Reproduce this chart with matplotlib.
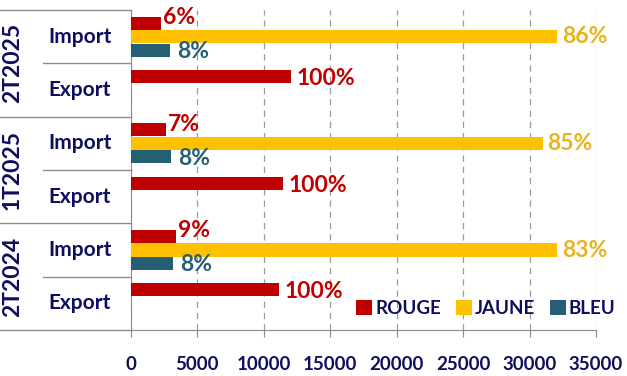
import matplotlib.pyplot as plt

plt.rcParams["font.family"] = ["Lato", "DejaVu Sans"]
plt.rcParams["font.weight"] = "bold"

# data
periodes = ["2T2025", "1T2025", "2T2024"]
flux = ["Import", "Export"]
series = ["ROUGE", "JAUNE", "BLEU"]
import_rouge = [2260, 2630, 3380]
import_jaune = [32100, 31000, 32100]
import_bleu = [2930, 3000, 3160]
export_rouge = [12030, 11430, 11130]
pct_rouge = ["6%", "7%", "9%"]
pct_jaune = ["86%", "85%", "83%"]
pct_bleu = ["8%", "8%", "8%"]
pct_export = ["100%", "100%", "100%"]
xticks = [0, 5000, 10000, 15000, 20000, 25000, 30000, 35000]

ROUGE = "#C00000"
JAUNE = "#FFC000"
BLEU = "#245F73"
NAVY = "#0E0E5E"
GRIS = "#8C8C8C"

fig = plt.figure(figsize=(6.27, 3.76), dpi=100)
ax = fig.add_axes([0.2089, 0.1223, 0.7417, 0.8511])

h = 0.245
off = 0.253
for i in range(len(periodes)):
    yi = 2 * i + 0.5
    ye = 2 * i + 1.5
    ax.barh(yi - off, import_rouge[i], height=h, color=ROUGE, zorder=3,
            label="ROUGE" if i == 0 else None)
    ax.barh(yi, import_jaune[i], height=h, color=JAUNE, zorder=3,
            label="JAUNE" if i == 0 else None)
    ax.barh(yi + off, import_bleu[i], height=h, color=BLEU, zorder=3,
            label="BLEU" if i == 0 else None)
    ax.barh(ye - off, export_rouge[i], height=h, color=ROUGE, zorder=3)

    ax.annotate(pct_rouge[i], (import_rouge[i], yi - off), xytext=(1.5, 4),
                textcoords="offset points", va="center", ha="left",
                color=ROUGE, fontsize=16.5, annotation_clip=False)
    ax.annotate(pct_jaune[i], (import_jaune[i], yi), xytext=(3, 0),
                textcoords="offset points", va="center", ha="left",
                color="#E8B41E", fontsize=16.5, annotation_clip=False)
    ax.annotate(pct_bleu[i], (import_bleu[i], yi + off), xytext=(5, -1),
                textcoords="offset points", va="center", ha="left",
                color=BLEU, fontsize=16.5, annotation_clip=False)
    ax.annotate(pct_export[i], (export_rouge[i], ye - off), xytext=(4, -1.5),
                textcoords="offset points", va="center", ha="left",
                color=ROUGE, fontsize=16.5, annotation_clip=False)

    # hierarchical labels on the left
    trans = ax.get_yaxis_transform()
    ax.text(-0.255, 2 * i + 1, periodes[i], transform=trans, rotation=90,
            ha="center", va="center", color=NAVY, fontsize=16.5)
    ax.text(-0.11, yi, flux[0], transform=trans, ha="center", va="center",
            color=NAVY, fontsize=15)
    ax.text(-0.11, ye, flux[1], transform=trans, ha="center", va="center",
            color=NAVY, fontsize=15)
    ax.plot([-0.189, 0], [2 * i + 1, 2 * i + 1], transform=trans,
            color=GRIS, lw=1, clip_on=False)
    ax.plot([-0.282, 0], [2 * i, 2 * i], transform=trans,
            color=GRIS, lw=1, clip_on=False)
ax.plot([-0.282, 0], [6, 6], transform=ax.get_yaxis_transform(),
        color=GRIS, lw=1, clip_on=False)

ax.set_ylim(6, 0)
ax.set_xlim(0, 35000)
ax.set_yticks([])
ax.set_xticks(xticks)
ax.set_xticklabels([str(t) for t in xticks], color=NAVY, fontsize=13.5)
ax.tick_params(axis="x", direction="out", length=5, color=GRIS, pad=14)
ax.grid(axis="x", linestyle=(0, (5, 4)), color="#9A9A9A", lw=0.9, zorder=0)

for s in ["top", "right"]:
    ax.spines[s].set_visible(False)
ax.spines["left"].set_color(GRIS)
ax.spines["bottom"].set_color(GRIS)

leg = ax.legend(loc="lower right", bbox_to_anchor=(1.07, 0.0), ncol=3,
                frameon=False, fontsize=13.5, handlelength=0.85,
                handleheight=0.85, handletextpad=0.15, columnspacing=0.8,
                borderaxespad=0.3)
for t in leg.get_texts():
    t.set_color(NAVY)

fig.savefig("out.png", dpi=100)
